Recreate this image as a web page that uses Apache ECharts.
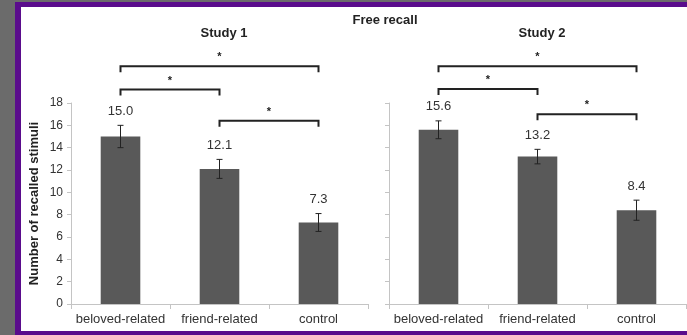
<!DOCTYPE html>
<html>
<head>
<meta charset="utf-8">
<script src="https://cdn.jsdelivr.net/npm/echarts@6/dist/echarts.min.js"></script>
<style>
  html, body { margin: 0; padding: 0; background: #6b6b6b; overflow: hidden; }
  #frame {
    position: absolute; left: 15px; top: 2px; width: 700px; height: 324px;
    background: #ffffff; border-left: 6px solid #5a0c8c; border-top: 5px solid #5a0c8c;
    border-bottom: 4px solid #5a0c8c;
  }
  #chart { position: absolute; left: 0; top: 0; width: 687px; height: 335px; }
</style>
</head>
<body>
<div id="frame"></div>
<div id="chart"></div>
<script>
// Conditions on the x axis
const categories = ['beloved-related', 'friend-related', 'control'];
// Y axis ticks
const yTicks = [0, 2, 4, 6, 8, 10, 12, 14, 16, 18];

// Mean number of recalled stimuli and standard errors
const study1Means = [15.0, 12.1, 7.3];
const study1Err = [1.0, 0.85, 0.8];
const study2Means = [15.6, 13.2, 8.4];
const study2Err = [0.8, 0.65, 0.9];

// Significance brackets: [from category, to category, height]
const study1Brackets = [[0, 2, 21.3], [0, 1, 19.2], [1, 2, 16.4]];
const study2Brackets = [[0, 2, 21.3], [0, 1, 19.25], [1, 2, 17.0]];

const axisGray = '#c4c4c4';
const textColor = '#333';
const barColor = '#595959';
const font = 'Liberation Sans, Arial, sans-serif';

function errData(means, errs) {
  return means.map((m, i) => [i, m - errs[i], m + errs[i], m]);
}

function errorRender(params, api) {
  const x = api.value(0);
  const lo = api.coord([x, api.value(1)]);
  const hi = api.coord([x, api.value(2)]);
  const cap = 3;
  return {
    type: 'group',
    children: [
      { type: 'line', shape: { x1: hi[0], y1: hi[1], x2: lo[0], y2: lo[1] }, style: { stroke: '#222', lineWidth: 1 } },
      { type: 'line', shape: { x1: hi[0] - cap, y1: hi[1], x2: hi[0] + cap, y2: hi[1] }, style: { stroke: '#222', lineWidth: 1 } },
      { type: 'line', shape: { x1: lo[0] - cap, y1: lo[1], x2: lo[0] + cap, y2: lo[1] }, style: { stroke: '#222', lineWidth: 1 } },
      { type: 'text', x: hi[0], y: hi[1] - 14,
        style: { text: api.value(3).toFixed(1), fill: textColor, font: '13px ' + font, align: 'center', verticalAlign: 'middle' } }
    ]
  };
}

function bracketRender(params, api) {
  const a = api.coord([api.value(0), api.value(2)]);
  const b = api.coord([api.value(1), api.value(2)]);
  const drop = 6;
  return {
    type: 'group',
    children: [
      { type: 'polyline', shape: { points: [[a[0], a[1] + drop], [a[0], a[1]], [b[0], b[1]], [b[0], b[1] + drop]] },
        style: { stroke: '#222', lineWidth: 2, fill: null } },
      { type: 'text', x: (a[0] + b[0]) / 2, y: a[1] - 9,
        style: { text: '*', fill: '#222', font: 'bold 11px ' + font, align: 'center', verticalAlign: 'middle' } }
    ]
  };
}

function xAxis(gridIndex) {
  return {
    type: 'category', gridIndex, data: categories,
    axisLine: { lineStyle: { color: axisGray, width: 1 } },
    axisTick: { show: true, length: 5, lineStyle: { color: axisGray } },
    axisLabel: { color: textColor, fontSize: 13, fontFamily: font, margin: 9, interval: 0 }
  };
}

function yAxis(gridIndex, showLabels) {
  return {
    type: 'value', gridIndex, min: yTicks[0], max: yTicks[yTicks.length - 1], interval: 2,
    splitLine: { show: false },
    axisLine: { show: true, lineStyle: { color: axisGray, width: 1 } },
    axisTick: { show: true, length: 4, lineStyle: { color: axisGray } },
    axisLabel: { show: showLabels, color: textColor, fontSize: 12, fontFamily: font, margin: 8 },
    name: showLabels ? 'Number of recalled stimuli' : '',
    nameLocation: 'middle', nameGap: 30,
    nameTextStyle: { color: '#222', fontSize: 13, fontWeight: 'bold', fontFamily: font }
  };
}

const chart = echarts.init(document.getElementById('chart'), null, { renderer: 'canvas' });
chart.setOption({
  backgroundColor: 'transparent',
  animation: false,
  graphic: [
    { type: 'text', x: 385, y: 20, style: { text: 'Free recall', fill: '#222', font: 'bold 13px ' + font, align: 'center', verticalAlign: 'middle' } },
    { type: 'text', x: 224, y: 33, style: { text: 'Study 1', fill: '#222', font: 'bold 13px ' + font, align: 'center', verticalAlign: 'middle' } },
    { type: 'text', x: 542, y: 33, style: { text: 'Study 2', fill: '#222', font: 'bold 13px ' + font, align: 'center', verticalAlign: 'middle' } }
  ],
  grid: [
    { left: 71, top: 103, width: 297, height: 201 },
    { left: 389, top: 103, width: 297, height: 201 }
  ],
  xAxis: [xAxis(0), xAxis(1)],
  yAxis: [yAxis(0, true), yAxis(1, false)],
  series: [
    { type: 'bar', xAxisIndex: 0, yAxisIndex: 0, data: study1Means, barWidth: '40%', itemStyle: { color: barColor } },
    { type: 'bar', xAxisIndex: 1, yAxisIndex: 1, data: study2Means, barWidth: '40%', itemStyle: { color: barColor } },
    { type: 'custom', xAxisIndex: 0, yAxisIndex: 0, data: errData(study1Means, study1Err), renderItem: errorRender, clip: false, z: 5 },
    { type: 'custom', xAxisIndex: 1, yAxisIndex: 1, data: errData(study2Means, study2Err), renderItem: errorRender, clip: false, z: 5 },
    { type: 'custom', xAxisIndex: 0, yAxisIndex: 0, data: study1Brackets, renderItem: bracketRender, clip: false, z: 5 },
    { type: 'custom', xAxisIndex: 1, yAxisIndex: 1, data: study2Brackets, renderItem: bracketRender, clip: false, z: 5 }
  ]
});
</script>
</body>
</html>
